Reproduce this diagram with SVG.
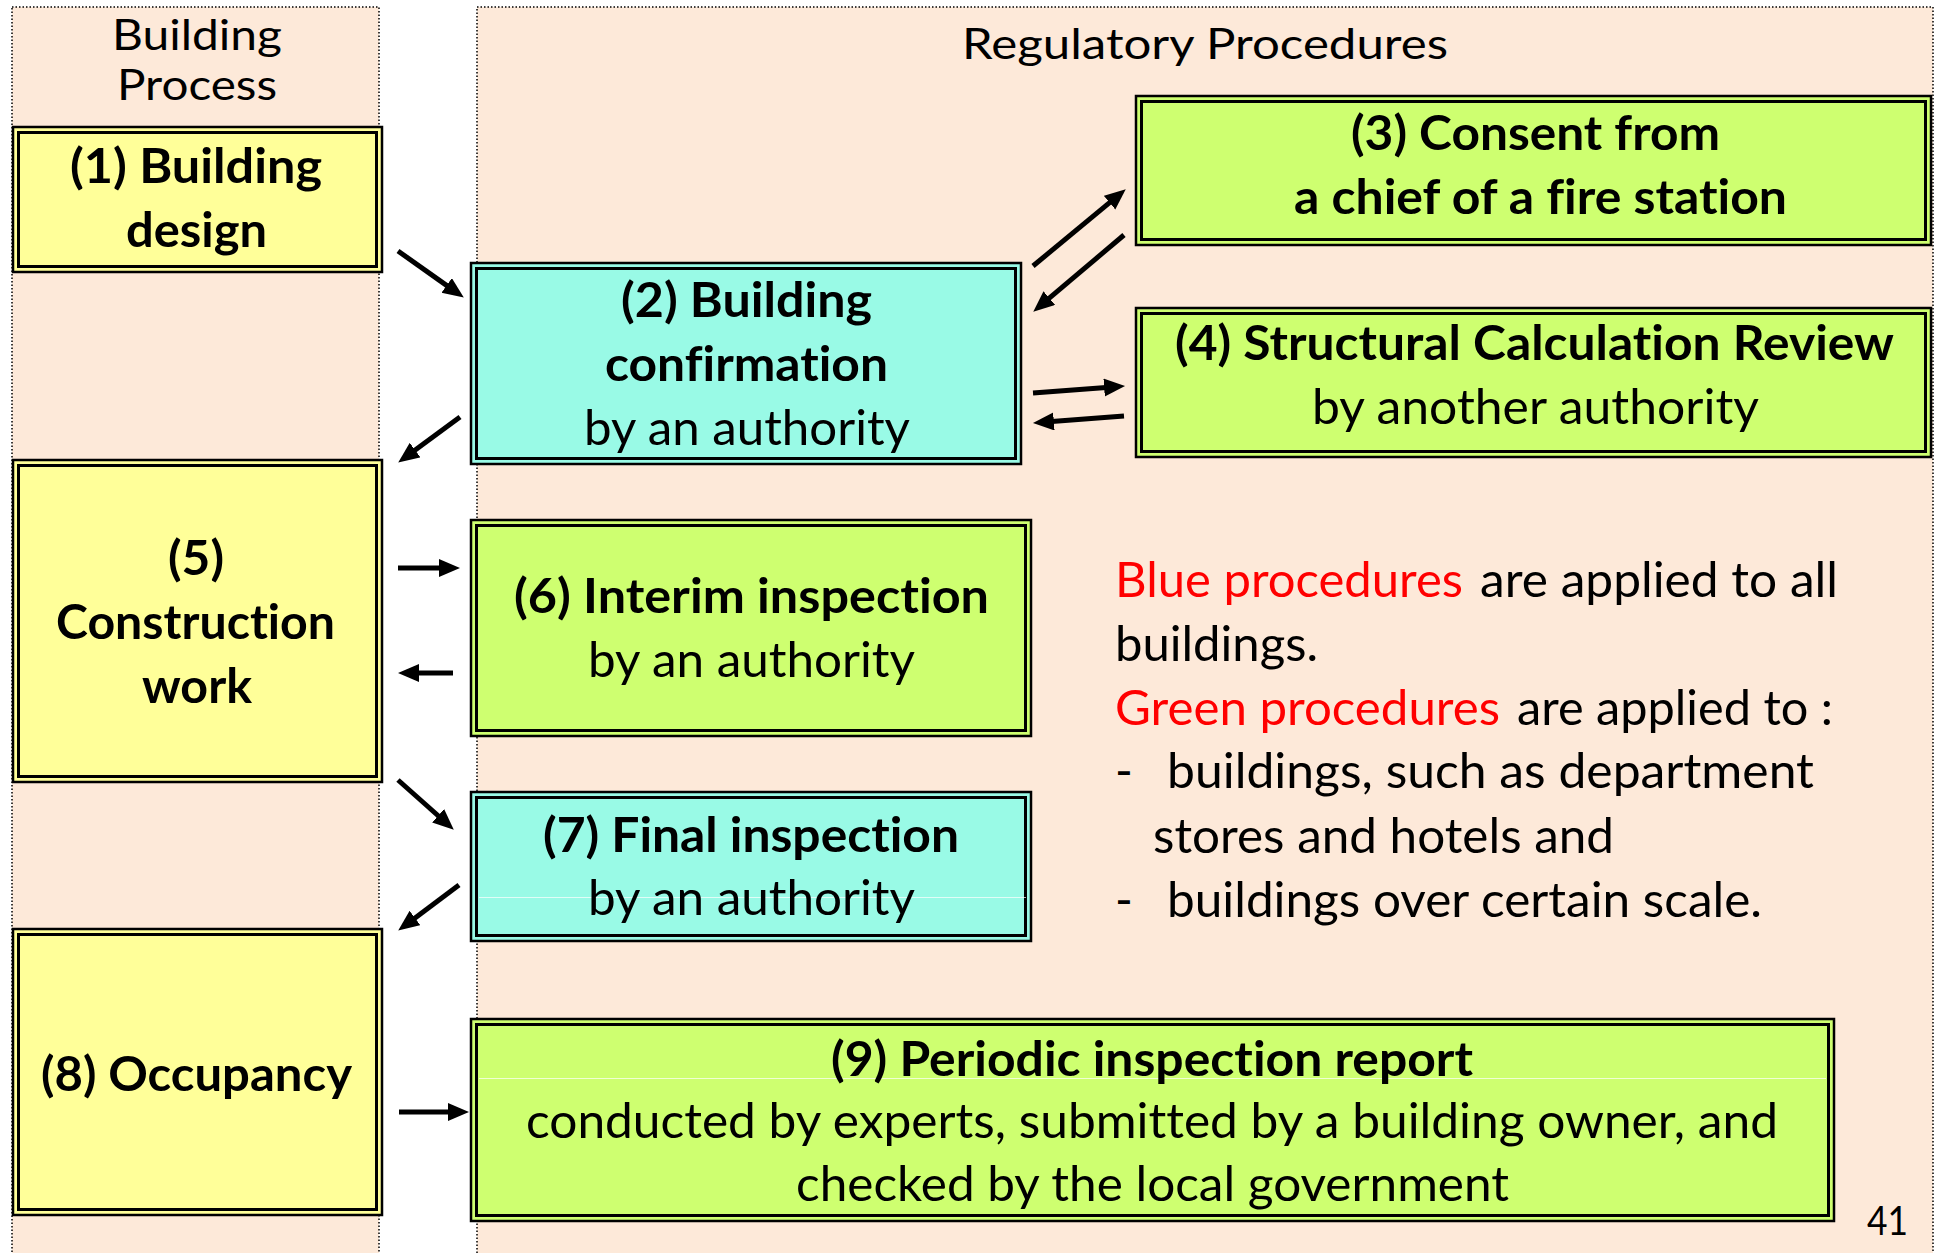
<svg xmlns="http://www.w3.org/2000/svg" width="1936" height="1253" viewBox="0 0 1936 1253">
<style>
.lane{fill:#FDE9D9;stroke:#000;stroke-width:1.5;stroke-dasharray:1.5 2}
.o{stroke:#000;stroke-width:2.5}
.i{fill:none;stroke:#000;stroke-width:3}
.y{fill:#FFFF99}
.c{fill:#99FAE6}
.g{fill:#CEFF70}
text{font-family:Lato,"Liberation Sans",sans-serif;fill:#000;font-variant-ligatures:none}
.t{font-size:48px;font-weight:700;text-anchor:middle}
.n{font-size:48px;font-weight:400;text-anchor:middle}
.h{font-size:42px;text-anchor:middle}
.l{font-size:48px}
.r{fill:#FF0000}
.a{stroke:#000;stroke-width:5;fill:none;marker-end:url(#ah)}
.wl{stroke:#FFFFFF;stroke-width:1;opacity:0.7}
</style>
<defs>
<marker id="ah" markerUnits="userSpaceOnUse" markerWidth="24" markerHeight="20" refX="2" refY="9" orient="auto">
<path d="M0,0 L21,9 L0,18 Z" fill="#000"/>
</marker>
</defs>
<rect width="1936" height="1253" fill="#FFFFFF"/>
<g id="lanes">
<rect class="lane" x="12" y="7" width="367" height="1260"/>
<rect class="lane" x="477" y="7" width="1456" height="1260"/>
<text class="h" x="197" y="50" textLength="170" lengthAdjust="spacingAndGlyphs">Building</text>
<text class="h" x="197" y="100" textLength="160" lengthAdjust="spacingAndGlyphs">Process</text>
<text class="h" x="1205" y="59" textLength="486" lengthAdjust="spacingAndGlyphs">Regulatory Procedures</text>
</g>
<g id="n1">
<rect class="o y" x="13" y="127" width="369" height="145"/>
<rect class="i" x="18.5" y="132.5" width="358" height="134"/>
<text class="t" x="196" y="183" textLength="252" lengthAdjust="spacingAndGlyphs">(1) Building</text>
<text class="t" x="196.5" y="247" textLength="141" lengthAdjust="spacingAndGlyphs">design</text>
</g>
<g id="n2">
<rect class="o c" x="471" y="263" width="550" height="201"/>
<rect class="i" x="476.5" y="268.5" width="539" height="190"/>
<text class="t" x="746.5" y="317" textLength="251" lengthAdjust="spacingAndGlyphs">(2) Building</text>
<text class="t" x="746.5" y="381" textLength="283" lengthAdjust="spacingAndGlyphs">confirmation</text>
<text class="n" x="747" y="445" textLength="326" lengthAdjust="spacingAndGlyphs">by an authority</text>
</g>
<g id="n3">
<rect class="o g" x="1136" y="96" width="795" height="149"/>
<rect class="i" x="1141.5" y="101.5" width="784" height="138"/>
<text class="t" x="1535.5" y="150" textLength="369" lengthAdjust="spacingAndGlyphs">(3) Consent from</text>
<text class="t" x="1540.5" y="214" textLength="493" lengthAdjust="spacingAndGlyphs">a chief of a fire station</text>
</g>
<g id="n4">
<rect class="o g" x="1136" y="308" width="795" height="149"/>
<rect class="i" x="1141.5" y="313.5" width="784" height="138"/>
<text class="t" x="1534.5" y="360" textLength="719" lengthAdjust="spacingAndGlyphs">(4) Structural Calculation Review</text>
<text class="n" x="1535.5" y="424" textLength="447" lengthAdjust="spacingAndGlyphs">by another authority</text>
</g>
<g id="n5">
<rect class="o y" x="13" y="460" width="369" height="322"/>
<rect class="i" x="18.5" y="465.5" width="358" height="311"/>
<text class="t" x="196" y="575" textLength="56" lengthAdjust="spacingAndGlyphs">(5)</text>
<text class="t" x="195.5" y="639" textLength="279" lengthAdjust="spacingAndGlyphs">Construction</text>
<text class="t" x="197" y="703" textLength="110" lengthAdjust="spacingAndGlyphs">work</text>
</g>
<g id="n6">
<rect class="o g" x="471" y="520" width="560" height="216"/>
<rect class="i" x="476.5" y="525.5" width="549" height="205"/>
<text class="t" x="751.5" y="613" textLength="475" lengthAdjust="spacingAndGlyphs">(6) Interim inspection</text>
<text class="n" x="751.5" y="677" textLength="327" lengthAdjust="spacingAndGlyphs">by an authority</text>
</g>
<g id="n7">
<rect class="o c" x="471" y="792" width="560" height="149"/>
<rect class="i" x="476.5" y="797.5" width="549" height="138"/>
<line class="wl" x1="479" y1="897.5" x2="1026" y2="897.5"/>
<text class="t" x="751" y="852" textLength="416" lengthAdjust="spacingAndGlyphs">(7) Final inspection</text>
<text class="n" x="751.5" y="915" textLength="327" lengthAdjust="spacingAndGlyphs">by an authority</text>
</g>
<g id="n8">
<rect class="o y" x="13" y="929" width="369" height="286"/>
<rect class="i" x="18.5" y="934.5" width="358" height="275"/>
<text class="t" x="196.5" y="1091" textLength="311" lengthAdjust="spacingAndGlyphs">(8) Occupancy</text>
</g>
<g id="n9">
<rect class="o g" x="471" y="1019" width="1363" height="202"/>
<rect class="i" x="476.5" y="1024.5" width="1352" height="191"/>
<line class="wl" x1="479" y1="1078.5" x2="1826" y2="1078.5"/>
<text class="t" x="1152" y="1076" textLength="642" lengthAdjust="spacingAndGlyphs">(9) Periodic inspection report</text>
<text class="n" x="1152" y="1138" textLength="1252" lengthAdjust="spacingAndGlyphs">conducted by experts, submitted by a building owner, and</text>
<text class="n" x="1152.5" y="1201" textLength="713" lengthAdjust="spacingAndGlyphs">checked by the local government</text>
</g>
<g id="legend">
<text class="l r" x="1115" y="597" textLength="348" lengthAdjust="spacingAndGlyphs">Blue procedures</text>
<text class="l" x="1480" y="597" textLength="358" lengthAdjust="spacingAndGlyphs">are applied to all</text>
<text class="l" x="1115" y="661" textLength="203" lengthAdjust="spacingAndGlyphs">buildings.</text>
<text class="l r" x="1115" y="725" textLength="385" lengthAdjust="spacingAndGlyphs">Green procedures</text>
<text class="l" x="1517" y="725" textLength="316" lengthAdjust="spacingAndGlyphs">are applied to :</text>
<text class="l" x="1115" y="788">-</text>
<text class="l" x="1167" y="788" textLength="647" lengthAdjust="spacingAndGlyphs">buildings, such as department</text>
<text class="l" x="1153" y="853" textLength="461" lengthAdjust="spacingAndGlyphs">stores and hotels and</text>
<text class="l" x="1115" y="917">-</text>
<text class="l" x="1167" y="917" textLength="595" lengthAdjust="spacingAndGlyphs">buildings over certain scale.</text>
</g>
<g id="page">
<text x="1867" y="1235" font-size="40" textLength="41" lengthAdjust="spacingAndGlyphs">41</text>
</g>
<g id="connectors">
<path class="a" d="M398,251 L448.3,286.6"/>
<path class="a" d="M460,417 L413.5,451.3"/>
<path class="a" d="M1033,266 L1111.1,201.4"/>
<path class="a" d="M1124,235 L1047.8,299.4"/>
<path class="a" d="M1033,393 L1106.1,387.4"/>
<path class="a" d="M1124,416 L1051.9,421.6"/>
<path class="a" d="M398,568 L441,568"/>
<path class="a" d="M453,673 L417,673"/>
<path class="a" d="M398,780 L439.6,817"/>
<path class="a" d="M459,885 L413.4,919.2"/>
<path class="a" d="M399,1112 L450,1112"/>
</g>
</svg>
